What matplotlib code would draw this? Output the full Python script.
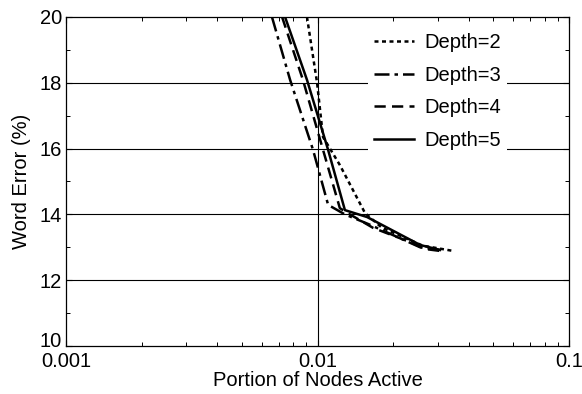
import matplotlib
matplotlib.use("Agg")
import matplotlib.pyplot as plt
from matplotlib.ticker import FixedLocator, LogLocator, NullFormatter
from matplotlib.transforms import offset_copy

plt.rcParams["font.family"] = ["Liberation Sans", "DejaVu Sans"]

# Portion of nodes active vs word error (%)
d2_x = [0.00908, 0.00996, 0.01052, 0.01227, 0.01545, 0.0180, 0.0262, 0.0346]
d2_y = [20.0, 18.0, 16.35, 15.5, 14.04, 13.6, 13.05, 12.89]

d3_x = [0.00659, 0.00778, 0.00960, 0.01102, 0.01285, 0.0160, 0.0256, 0.0307]
d3_y = [20.0, 18.09, 15.96, 14.29, 14.0, 13.7, 13.0, 12.92]

d4_x = [0.00723, 0.00875, 0.01052, 0.01227, 0.01346, 0.01664, 0.0233, 0.0267, 0.0307]
d4_y = [20.0, 18.09, 15.96, 14.19, 14.0, 13.59, 13.16, 12.95, 12.89]

d5_x = [0.00743, 0.00908, 0.01102, 0.01285, 0.01574, 0.0256, 0.0307]
d5_y = [20.0, 18.09, 15.96, 14.13, 13.92, 13.07, 12.92]

series = [
    ("Depth=2", d2_x, d2_y, (0, (1.6, 1.4))),
    ("Depth=3", d3_x, d3_y, (0, (6.0, 2.0, 1.4, 2.0))),
    ("Depth=4", d4_x, d4_y, (0, (4.5, 2.5))),
    ("Depth=5", d5_x, d5_y, "-"),
]

FS = 14.5

fig = plt.figure(figsize=(5.82, 3.94), dpi=100)
ax = fig.add_axes([0.1134, 0.1218, 0.8643, 0.8351])

for label, xs, ys, ls in series:
    ax.plot(xs, ys, color="black", linestyle=ls, linewidth=1.8, label=label,
            zorder=3)

ax.set_xscale("log")
ax.set_xlim(0.001, 0.1)
ax.set_ylim(10, 20)

ax.xaxis.set_major_locator(FixedLocator([0.001, 0.01, 0.1]))
ax.set_xticklabels(["0.001", "0.01", "0.1"])
ax.xaxis.set_minor_locator(LogLocator(base=10, subs=range(2, 10)))
ax.xaxis.set_minor_formatter(NullFormatter())
ax.set_yticks([10, 12, 14, 16, 18, 20])
ax.set_yticks([11, 13, 15, 17, 19], minor=True)

ax.tick_params(which="both", direction="in", top=True, right=True,
               labelsize=FS, color="black")
ax.tick_params(axis="x", pad=4)
ax.tick_params(axis="y", pad=3)
ax.tick_params(which="major", length=4, width=0.8)
ax.tick_params(which="minor", length=3, width=0.7)

# the "10" label sits a bit above its tick so it clears "0.001"
fig.canvas.draw()
lab10 = ax.get_yticklabels()[0]
lab10.set_transform(offset_copy(lab10.get_transform(), fig=fig, y=7, units="dots"))

for y in [12, 14, 16, 18]:
    ax.axhline(y, color="black", linewidth=0.8, zorder=1)
ax.axvline(0.01, color="black", linewidth=0.8, zorder=1)

for sp in ax.spines.values():
    sp.set_linewidth(0.9)

ax.set_xlabel("Portion of Nodes Active", fontsize=FS, labelpad=0)
ax.set_ylabel("Word Error (%)", fontsize=FS, labelpad=6)

leg = ax.legend(loc="upper left", bbox_to_anchor=(0.6, 0.97), frameon=True,
                fontsize=FS, handlelength=2.0, handletextpad=0.5,
                labelspacing=0.68, borderpad=0.3, borderaxespad=0,
                fancybox=False)
leg.get_frame().set_edgecolor("none")
leg.get_frame().set_facecolor("white")
leg.get_frame().set_alpha(1.0)

fig.savefig("out.png", dpi=100)
